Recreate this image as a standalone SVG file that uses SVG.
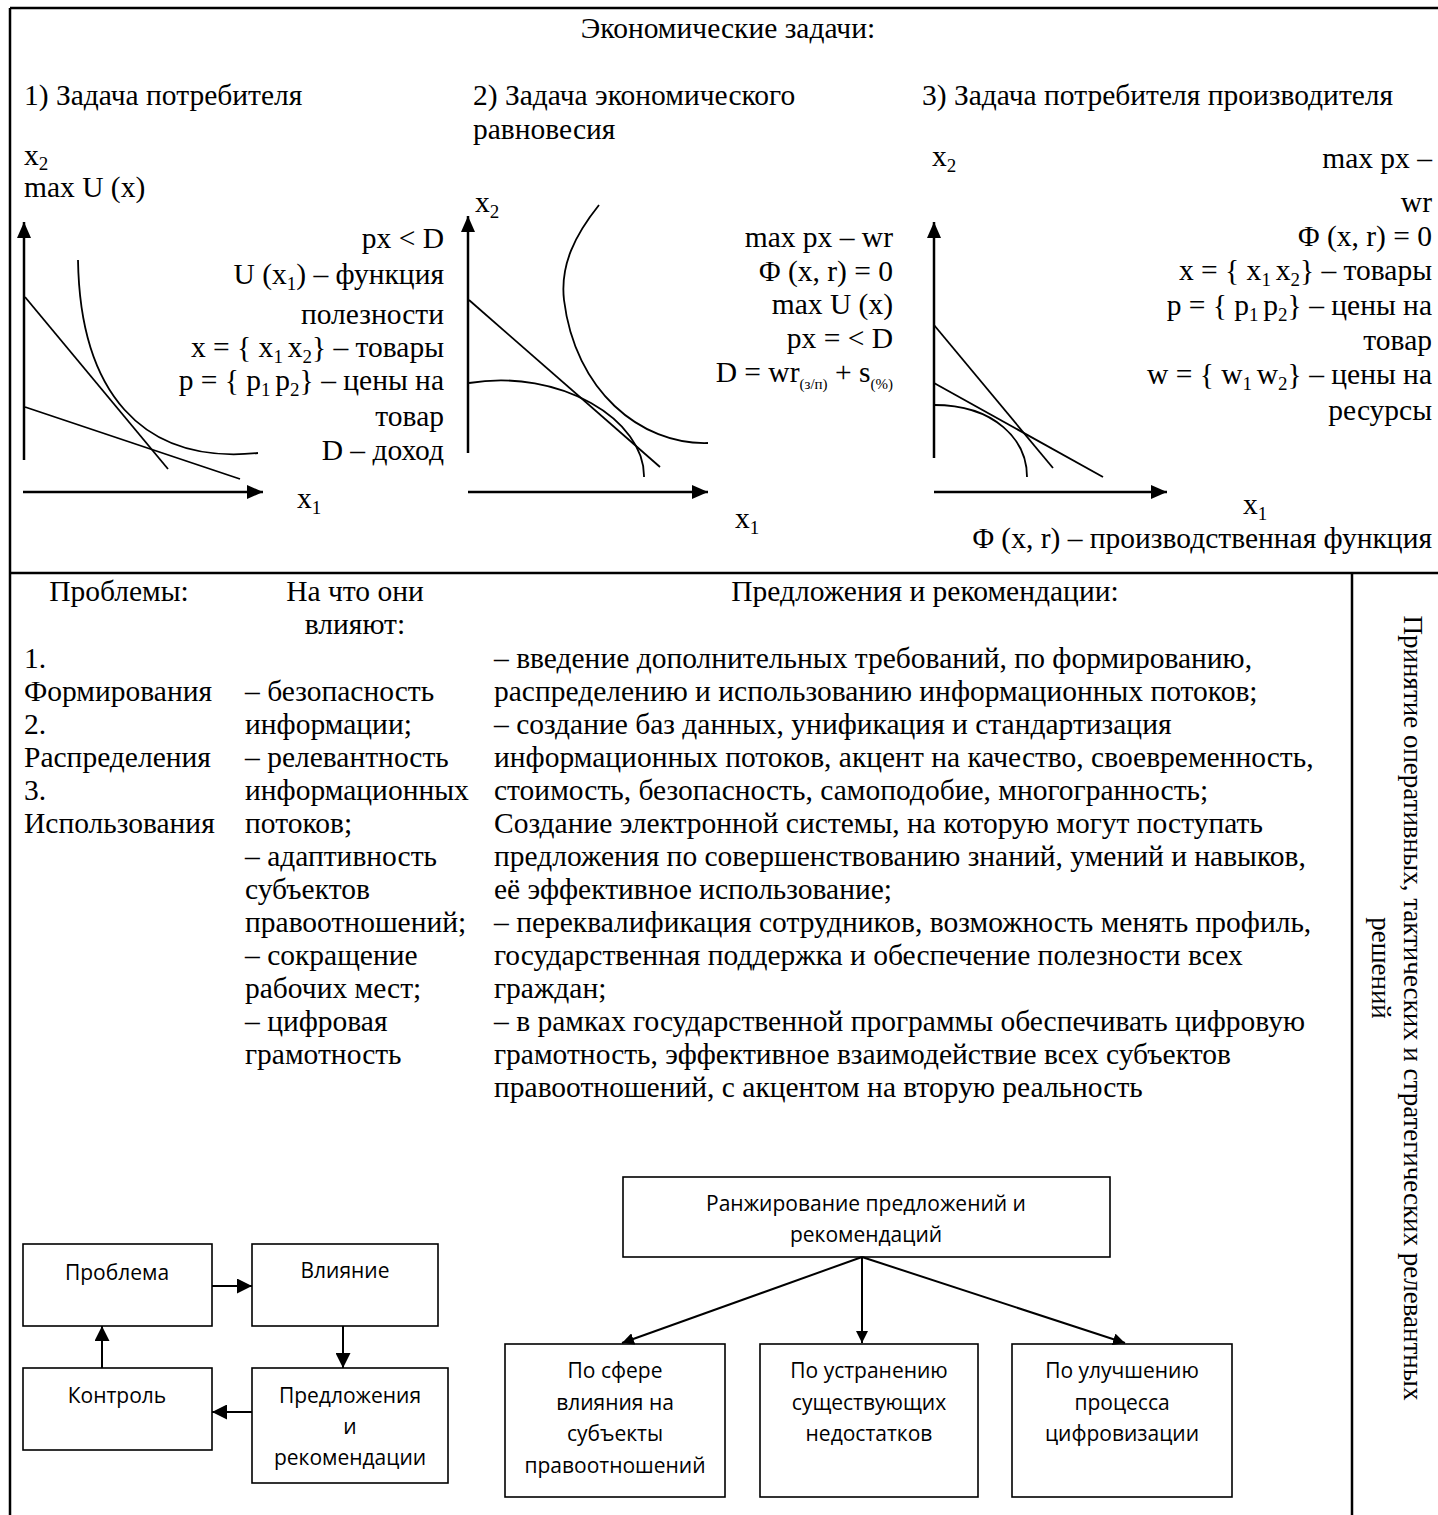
<svg xmlns="http://www.w3.org/2000/svg" width="1438" height="1515" viewBox="0 0 1438 1515">
<style>
.t{font-family:"Liberation Serif","Times New Roman",serif;font-size:29.5px;fill:#000}
.e{text-anchor:end}
.m{text-anchor:middle}
.s{font-size:19px}
.ss{font-size:15px}
.f{font-family:"Open Sans","Liberation Sans",sans-serif;font-size:21px;fill:#000;text-anchor:middle}
.frame{stroke:#000;stroke-width:2.5;fill:none}
.axis{stroke:#000;stroke-width:2.5;fill:none}
.cv{stroke:#000;stroke-width:1.8;fill:none}
.box{fill:#fff;stroke:#000;stroke-width:1.6}
.con{stroke:#000;stroke-width:2;fill:none}
</style>
<defs>
<marker id="ah" viewBox="0 0 16 14" refX="16" refY="7" markerWidth="16" markerHeight="14" markerUnits="userSpaceOnUse" orient="auto"><path d="M0,0 L16,7 L0,14 z" fill="#000"/></marker>
<marker id="fh" viewBox="0 0 15 15" refX="15" refY="7.5" markerWidth="15" markerHeight="15" markerUnits="userSpaceOnUse" orient="auto"><path d="M0,0 L15,7.5 L0,15 z" fill="#000"/></marker>
<marker id="th" viewBox="0 0 12 12" refX="12" refY="6" markerWidth="12" markerHeight="12" markerUnits="userSpaceOnUse" orient="auto"><path d="M0,0 L12,6 L0,12 z" fill="#000"/></marker>
</defs>

<g id="frame">
<path class="frame" d="M10,8 H1438 M10,8 V1515 M10,573 H1438 M1352,573 V1515"/>
</g>

<g id="header">
<text class="t m" x="728" y="38">Экономические задачи:</text>
<text class="t" x="24" y="105">1) Задача потребителя</text>
<text class="t" x="473" y="105">2) Задача экономического</text>
<text class="t" x="473" y="139">равновесия</text>
<text class="t" x="922" y="105">3) Задача потребителя производителя</text>
</g>

<g id="graph1">
<path class="axis" d="M24,460 V222" marker-end="url(#ah)"/>
<path class="axis" d="M23,492 H263" marker-end="url(#ah)"/>
<path class="cv" d="M25,297 L168,469"/>
<path class="cv" d="M25,407 L240,479"/>
<path class="cv" d="M78,260 C80,390 140,465 258,453"/>
<text class="t" x="24" y="165">x<tspan class="s" dy="5">2</tspan></text>
<text class="t" x="24" y="197">max U (x)</text>
<text class="t" x="297" y="508">x<tspan class="s" dy="6">1</tspan></text>
<text class="t e" x="444" y="248">px &lt; D</text>
<text class="t e" x="444" y="284">U (x<tspan class="s" dy="6">1</tspan><tspan dy="-6">) – функция</tspan></text>
<text class="t e" x="444" y="324">полезности</text>
<text class="t e" x="444" y="357">x = { x<tspan class="s" dy="6">1 </tspan><tspan dy="-6">x</tspan><tspan class="s" dy="6">2</tspan><tspan dy="-6">} – товары</tspan></text>
<text class="t e" x="444" y="390">p = { p<tspan class="s" dy="6">1 </tspan><tspan dy="-6">p</tspan><tspan class="s" dy="6">2</tspan><tspan dy="-6">} – цены на</tspan></text>
<text class="t e" x="444" y="426">товар</text>
<text class="t e" x="444" y="460">D – доход</text>
</g>

<g id="graph2">
<path class="axis" d="M468,453 V216" marker-end="url(#ah)"/>
<path class="axis" d="M468,492 H708" marker-end="url(#ah)"/>
<path class="cv" d="M469,300 L660,467"/>
<path class="cv" d="M469,383 C560,368 645,420 644,477"/>
<path class="cv" d="M599,205 C575,235 560,265 564,300 C575,390 640,445 708,443"/>
<text class="t" x="475" y="212">x<tspan class="s" dy="6">2</tspan></text>
<text class="t" x="735" y="528">x<tspan class="s" dy="6">1</tspan></text>
<text class="t e" x="893" y="247">max px – wr</text>
<text class="t e" x="893" y="281">Φ (x, r) = 0</text>
<text class="t e" x="893" y="314">max U (x)</text>
<text class="t e" x="893" y="348">px = &lt; D</text>
<text class="t e" x="893" y="382">D = wr<tspan class="ss" dy="7">(з/п)</tspan><tspan dy="-7"> + s</tspan><tspan class="ss" dy="7">(%)</tspan></text>
</g>

<g id="graph3">
<path class="axis" d="M934,458 V222" marker-end="url(#ah)"/>
<path class="axis" d="M934,492 H1167" marker-end="url(#ah)"/>
<path class="cv" d="M934,325 L1053,468"/>
<path class="cv" d="M934,383 L1103,477"/>
<path class="cv" d="M934,405 C995,405 1027,440 1027,477"/>
<text class="t" x="932" y="166">x<tspan class="s" dy="6">2</tspan></text>
<text class="t" x="1243" y="514">x<tspan class="s" dy="6">1</tspan></text>
<text class="t e" x="1432" y="168">max px –</text>
<text class="t e" x="1432" y="212">wr</text>
<text class="t e" x="1432" y="246">Φ (x, r) = 0</text>
<text class="t e" x="1432" y="280">x = { x<tspan class="s" dy="6">1 </tspan><tspan dy="-6">x</tspan><tspan class="s" dy="6">2</tspan><tspan dy="-6">} – товары</tspan></text>
<text class="t e" x="1432" y="315">p = { p<tspan class="s" dy="6">1 </tspan><tspan dy="-6">p</tspan><tspan class="s" dy="6">2</tspan><tspan dy="-6">} – цены на</tspan></text>
<text class="t e" x="1432" y="350">товар</text>
<text class="t e" x="1432" y="384">w = { w<tspan class="s" dy="6">1 </tspan><tspan dy="-6">w</tspan><tspan class="s" dy="6">2</tspan><tspan dy="-6">} – цены на</tspan></text>
<text class="t e" x="1432" y="420">ресурсы</text>
<text class="t e" x="1432" y="548">Φ (x, r) – производственная функция</text>
</g>

<g id="problems">
<text class="t m" x="119" y="601">Проблемы:</text>
<text class="t" x="24" y="668">1.</text>
<text class="t" x="24" y="701">Формирования</text>
<text class="t" x="24" y="734">2.</text>
<text class="t" x="24" y="767">Распределения</text>
<text class="t" x="24" y="800">3.</text>
<text class="t" x="24" y="833">Использования</text>
</g>

<g id="influence">
<text class="t m" x="355" y="601">На что они</text>
<text class="t m" x="355" y="634">влияют:</text>
<text class="t" x="245" y="701">– безопасность</text>
<text class="t" x="245" y="734">информации;</text>
<text class="t" x="245" y="767">– релевантность</text>
<text class="t" x="245" y="800">информационных</text>
<text class="t" x="245" y="833">потоков;</text>
<text class="t" x="245" y="866">– адаптивность</text>
<text class="t" x="245" y="899">субъектов</text>
<text class="t" x="245" y="932">правоотношений;</text>
<text class="t" x="245" y="965">– сокращение</text>
<text class="t" x="245" y="998">рабочих мест;</text>
<text class="t" x="245" y="1031">– цифровая</text>
<text class="t" x="245" y="1064">грамотность</text>
</g>

<g id="proposals">
<text class="t m" x="925" y="601">Предложения и рекомендации:</text>
<text class="t" x="494" y="668">– введение дополнительных требований, по формированию,</text>
<text class="t" x="494" y="701">распределению и использованию информационных потоков;</text>
<text class="t" x="494" y="734">– создание баз данных, унификация и стандартизация</text>
<text class="t" x="494" y="767">информационных потоков, акцент на качество, своевременность,</text>
<text class="t" x="494" y="800">стоимость, безопасность, самоподобие, многогранность;</text>
<text class="t" x="494" y="833">Создание электронной системы, на которую могут поступать</text>
<text class="t" x="494" y="866">предложения по совершенствованию знаний, умений и навыков,</text>
<text class="t" x="494" y="899">её эффективное использование;</text>
<text class="t" x="494" y="932">– переквалификация сотрудников, возможность менять профиль,</text>
<text class="t" x="494" y="965">государственная поддержка и обеспечение полезности всех</text>
<text class="t" x="494" y="998">граждан;</text>
<text class="t" x="494" y="1031">– в рамках государственной программы обеспечивать цифровую</text>
<text class="t" x="494" y="1064">грамотность, эффективное взаимодействие всех субъектов</text>
<text class="t" x="494" y="1097">правоотношений, с акцентом на вторую реальность</text>
</g>

<g id="decisions">
<text class="t m" transform="translate(1404,1008) rotate(90)" style="font-size:27px">Принятие оперативных, тактических и стратегических релевантных</text>
<text class="t m" transform="translate(1372,968) rotate(90)" style="font-size:27px">решений</text>
</g>

<g id="node-problem"><rect class="box" x="23" y="1244" width="189" height="82"/><text class="f" x="117" y="1280">Проблема</text></g>
<g id="node-influence"><rect class="box" x="252" y="1244" width="186" height="82"/><text class="f" x="345" y="1278">Влияние</text></g>
<g id="node-proposals"><rect class="box" x="252" y="1368" width="196" height="115"/><text class="f" x="350" y="1403">Предложения</text><text class="f" x="350" y="1434">и</text><text class="f" x="350" y="1465">рекомендации</text></g>
<g id="node-control"><rect class="box" x="23" y="1368" width="189" height="82"/><text class="f" x="117" y="1403">Контроль</text></g>

<g id="node-ranking"><rect class="box" x="623" y="1177" width="487" height="80"/><text class="f" x="866" y="1211">Ранжирование предложений и</text><text class="f" x="866" y="1242">рекомендаций</text></g>
<g id="node-sphere"><rect class="box" x="505" y="1344" width="220" height="153"/><text class="f" x="615" y="1378">По сфере</text><text class="f" x="615" y="1410">влияния на</text><text class="f" x="615" y="1441">субъекты</text><text class="f" x="615" y="1473">правоотношений</text></g>
<g id="node-elimination"><rect class="box" x="760" y="1344" width="218" height="153"/><text class="f" x="869" y="1378">По устранению</text><text class="f" x="869" y="1410">существующих</text><text class="f" x="869" y="1441">недостатков</text></g>
<g id="node-digital"><rect class="box" x="1012" y="1344" width="220" height="153"/><text class="f" x="1122" y="1378">По улучшению</text><text class="f" x="1122" y="1410">процесса</text><text class="f" x="1122" y="1441">цифровизации</text></g>

<g id="connectors">
<path class="con" d="M212,1286 H252" marker-end="url(#fh)"/>
<path class="con" d="M343,1326 V1368" marker-end="url(#fh)"/>
<path class="con" d="M252,1412 H212" marker-end="url(#fh)"/>
<path class="con" d="M102,1368 V1326" marker-end="url(#fh)"/>
<path class="con" d="M862,1257 L622,1343" marker-end="url(#th)"/>
<path class="con" d="M862,1257 V1343" marker-end="url(#th)"/>
<path class="con" d="M862,1257 L1125,1343" marker-end="url(#th)"/>
</g>
</svg>
